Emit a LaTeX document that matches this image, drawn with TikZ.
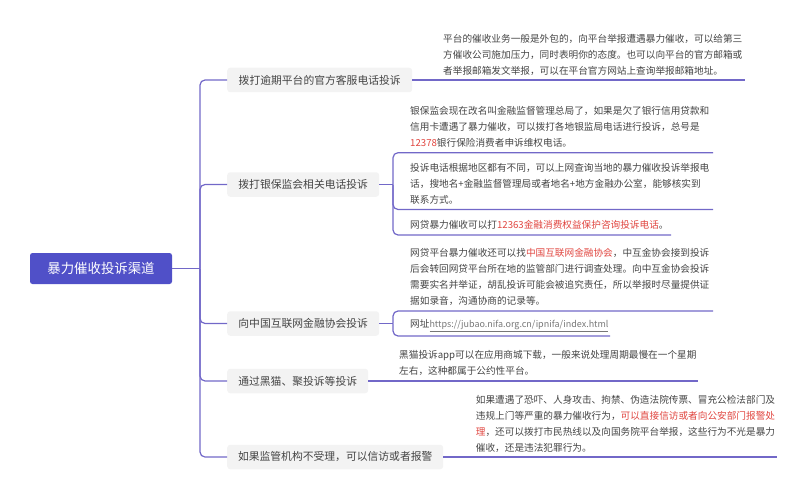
\documentclass[tikz,border=0pt]{standalone}
\usepackage{fontspec}
\setmainfont{Noto Sans CJK SC}
\definecolor{rootfill}{HTML}{5050C8}
\definecolor{linec}{HTML}{7268C8}
\definecolor{topicfill}{HTML}{F3F3F3}
\definecolor{textc}{HTML}{444444}
\definecolor{redc}{HTML}{E0453F}
\definecolor{urlc}{HTML}{777777}
\newcommand{\rd}[1]{\textcolor{redc}{#1}}
\tikzset{
  rootbox/.style={fill=rootfill,text=white,rounded corners=2.5pt,minimum width=142pt,minimum height=31pt,inner sep=0pt,font=\fontsize{13.4pt}{16pt}\selectfont},
  topic/.style={fill=topicfill,text=textc,rounded corners=3pt,minimum height=24.5pt,inner sep=0pt,anchor=west,font=\fontsize{10.8pt}{14pt}\selectfont},
  leaf/.style={text=textc,anchor=west,align=left,inner sep=0pt,font=\fontsize{9.65pt}{16pt}\selectfont},
  conn/.style={draw=linec,line width=1.2pt,rounded corners=5pt}
}
\begin{document}
\begin{tikzpicture}[x=1pt,y=-1pt]
\useasboundingbox (0,0) rectangle (808,500);
\node[rootbox] (root) at (101,268.5) {暴力催收投诉渠道};
\node[topic,minimum width=185pt] (t1) at (227,80) {拨打逾期平台的官方客服电话投诉};
\node[topic,minimum width=152pt] (t2) at (227,184.5) {拨打银保监会相关电话投诉};
\node[topic,minimum width=152pt] (t3) at (227,323.5) {向中国互联网金融协会投诉};
\node[topic,minimum width=141pt] (t4) at (227,381) {通过黑猫、聚投诉等投诉};
\node[topic,minimum width=216pt] (t5) at (227,457) {如果监管机构不受理，可以信访或者报警};

\node[leaf] (l1) at (443,54.5) {平台的催收业务一般是外包的，向平台举报遭遇暴力催收，可以给第三\\方催收公司施加压力，同时表明你的态度。也可以向平台的官方邮箱或\\者举报邮箱发文举报，可以在平台官方网站上查询举报邮箱地址。};
\node[leaf] (l2) at (410,126.7) {银保监会现在改名叫金融监督管理总局了，如果是欠了银行信用贷款和\\信用卡遭遇了暴力催收，可以拨打各地银监局电话进行投诉，总号是\\\rd{12378}银行保险消费者申诉维权电话。};
\node[leaf] (l3) at (410,183.7) {投诉电话根据地区都有不同，可以上网查询当地的暴力催收投诉举报电\\话，搜地名+金融监督管理局或者地名+地方金融办公室，能够核实到\\联系方式。};
\node[leaf] (l4) at (410,225) {网贷暴力催收可以打\rd{12363金融消费权益保护咨询投诉电话}。};
\node[leaf] (l5) at (410,277) {网贷平台暴力催收还可以找\rd{中国互联网金融协会}，中互金协会接到投诉\\后会转回网贷平台所在地的监管部门进行调查处理。向中互金协会投诉\\需要实名并举证，胡乱投诉可能会被追究责任，所以举报时尽量提供证\\据如录音，沟通协商的记录等。};
\node[leaf] (l6) at (410,325.7) {网址\textcolor{urlc}{\fontsize{9pt}{16pt}\selectfont\underline{https://jubao.nifa.org.cn/ipnifa/index.html}}};
\node[leaf] (l7) at (399,363) {黑猫投诉app可以在应用商城下载，一般来说处理周期最慢在一个星期\\左右，这种都属于公约性平台。};
\node[leaf] (l8) at (475.7,424) {如果遭遇了恐吓、人身攻击、拘禁、伪造法院传票、冒充公检法部门及\\违规上门等严重的暴力催收行为，\rd{可以直接信访或者向公安部门报警处}\\\rd{理}，还可以拨打市民热线以及向国务院平台举报，这些行为不光是暴力\\催收，还是违法犯罪行为。};

\coordinate (j) at (200,268.5);
\draw[conn] (root.east) -- (j);
\draw[conn] (j) |- (t1.west);
\draw[conn] (j) |- (t2.west);
\draw[conn] (j) |- (t3.west);
\draw[conn] (j) |- (t4.west);
\draw[conn] (j) |- (t5.west);

\coordinate (e1) at (745,80);
\draw[conn] (t1.east) -- (e1);

\coordinate (j2) at (393,184.5);
\coordinate (e2a) at (713,152.7);
\coordinate (e2b) at (713,209.5);
\coordinate (e2c) at (671,235);
\draw[conn] (t2.east) -- (j2);
\draw[conn] (j2) |- (e2a);
\draw[conn] (j2) |- (e2b);
\draw[conn] (j2) |- (e2c);

\coordinate (j3) at (393,323.5);
\coordinate (e3a) at (713,311);
\coordinate (e3b) at (610,336);
\draw[conn] (t3.east) -- (j3);
\draw[conn] (j3) |- (e3a);
\draw[conn] (j3) |- (e3b);

\coordinate (e4) at (698,381);
\draw[conn] (t4.east) -- (e4);
\coordinate (e5) at (777,457);
\draw[conn] (t5.east) -- (e5);
\end{tikzpicture}
\end{document}
